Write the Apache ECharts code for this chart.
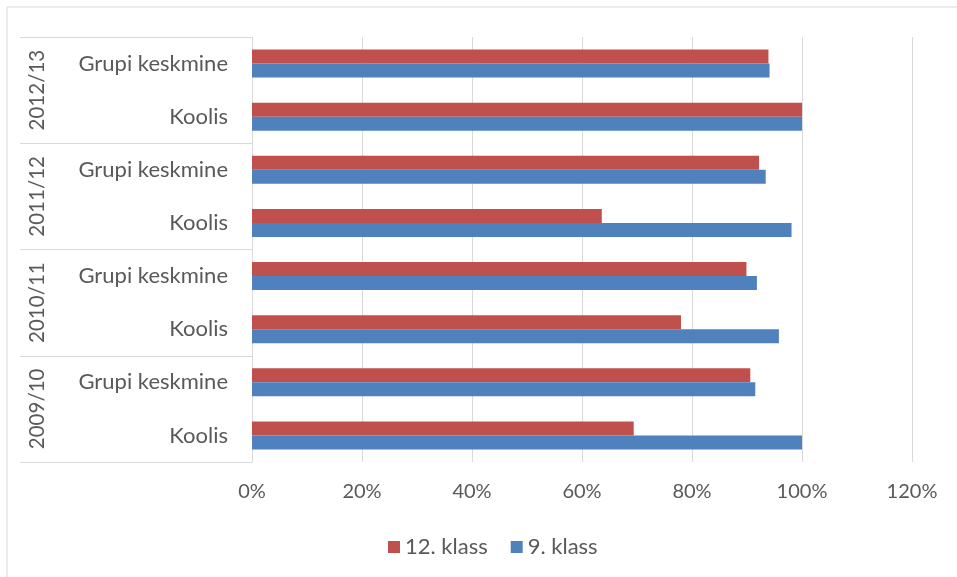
<!DOCTYPE html>
<html>
<head>
<meta charset="utf-8">
<script src="https://cdn.jsdelivr.net/npm/echarts@6/dist/echarts.min.js"></script>
<style>
html,body{margin:0;padding:0;background:#fff;}
#chart{width:957px;height:577px;}
</style>
</head>
<body>
<div id="chart"></div>
<script>
// Categories bottom-to-top
const subCategories = ['Koolis','Grupi keskmine','Koolis','Grupi keskmine','Koolis','Grupi keskmine','Koolis','Grupi keskmine'];
const yearCategories = ['2009/10','2010/11','2011/12','2012/13'];
const seriesNames = ['12. klass','9. klass'];
// values (fraction) in the same bottom-to-top order
const klass12 = [0.694, 0.906, 0.780, 0.899, 0.636, 0.922, 1.000, 0.939];
const klass9  = [1.000, 0.915, 0.958, 0.918, 0.981, 0.934, 1.000, 0.941];
const xTicks = {min:0, max:1.2, interval:0.2};

const FONT = 'Lato';
const TXT = '#595959';
const GRID = '#D9D9D9';

const chart = echarts.init(document.getElementById('chart'), null, {renderer:'canvas'});
chart.setOption({
  animation:false,
  backgroundColor:'#fff',
  textStyle:{fontFamily:FONT},
  graphic:[{
    type:'rect', shape:{x:7,y:7,width:1000,height:1000},
    style:{fill:'none', stroke:GRID, lineWidth:1}, silent:true, z:-10
  }],
  grid:{left:252, right:45, top:37, bottom:115, containLabel:false},
  legend:{
    data:seriesNames,
    left:383, top:531,
    itemWidth:12, itemHeight:12, itemGap:23,
    icon:'rect',
    textStyle:{color:TXT, fontSize:22, fontFamily:FONT}
  },
  xAxis:{
    type:'value', min:xTicks.min, max:xTicks.max, interval:xTicks.interval,
    axisLine:{show:false}, axisTick:{show:false},
    splitLine:{show:true, lineStyle:{color:GRID, width:1}},
    axisLabel:{
      color:TXT, fontSize:20, fontFamily:FONT, margin:20,
      formatter:v => Math.round(v*100)+'%'
    }
  },
  yAxis:[{
    type:'category', data:subCategories, position:'left',
    axisLine:{show:false}, axisTick:{show:false},
    axisLabel:{color:TXT, fontSize:22, fontFamily:FONT, margin:24}
  },{
    type:'category', data:yearCategories, position:'left',
    axisLine:{show:true, lineStyle:{color:GRID}},
    axisTick:{show:true, length:232, lineStyle:{color:GRID}},
    axisLabel:{color:TXT, fontSize:20.5, fontFamily:FONT, rotate:90, margin:204}
  }],
  series:[{
    name:'12. klass', type:'bar', yAxisIndex:0, data:klass12,
    barWidth:14, barGap:'0%',
    itemStyle:{color:'#C0504D'}
  },{
    name:'9. klass', type:'bar', yAxisIndex:0, data:klass9,
    barWidth:14, barGap:'0%',
    itemStyle:{color:'#4F81BD'}
  }]
});
</script>
</body>
</html>
